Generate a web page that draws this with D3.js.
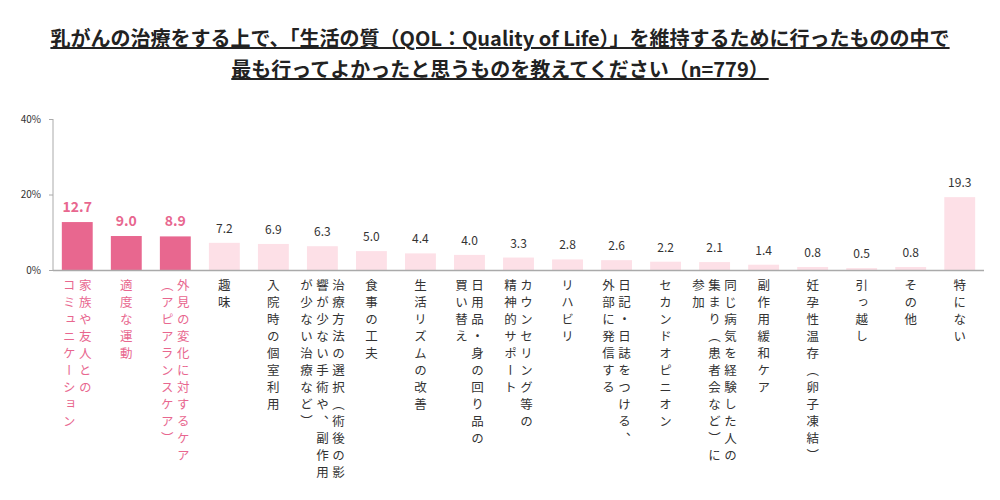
<!DOCTYPE html>
<html>
<head>
<meta charset="utf-8">
<script src="https://cdn.jsdelivr.net/npm/d3@7"></script>
<style>
  body { margin: 0; background: #fff; }
  svg text { font-family: "Noto Sans CJK JP", sans-serif; }
</style>
</head>
<body>
<div id="chart"></div>
<script>
// 項目（\n で縦書きの列を分ける）
const categories = [
    "家族や友人との\nコミュニケーション",
    "適度な運動",
    "外見の変化に対するケア\n（アピアランスケア）",
    "趣味",
    "入院時の個室利用",
    "治療方法の選択（術後の影\n響が少ない手術や、副作用\nが少ない治療など）",
    "食事の工夫",
    "生活リズムの改善",
    "日用品・身の回り品の\n買い替え",
    "カウンセリング等の\n精神的サポート",
    "リハビリ",
    "日記・日誌をつける、\n外部に発信する",
    "セカンドオピニオン",
    "同じ病気を経験した人の\n集まり（患者会など）に\n参加",
    "副作用緩和ケア",
    "妊孕性温存（卵子凍結）",
    "引っ越し",
    "その他",
    "特にない"
];
const values = [12.7, 9.0, 8.9, 7.2, 6.9, 6.3, 5.0, 4.4, 4.0, 3.3, 2.8, 2.6, 2.2, 2.1, 1.4, 0.8, 0.5, 0.8, 19.3];
const highlighted = [true, true, true, false, false, false, false, false, false, false, false, false, false, false, false, false, false, false, false];
const yTicks = [0, 20, 40];
const titleLines = [
    "乳がんの治療をする上で、「生活の質（QOL：Quality of Life）」を維持するために行ったものの中で",
    "最も行ってよかったと思うものを教えてください（n=779）"
];

const width = 1000;
const height = 500;
const pink = "#e8678f";
const lightPink = "#fde0e7";
const textDark = "#333";

const svg = d3.select("#chart").append("svg")
    .attr("width", width)
    .attr("height", height);

// タイトル
svg.selectAll(".title")
    .data(titleLines)
    .enter()
    .append("text")
    .attr("class", "title")
    .attr("x", 500)
    .attr("y", (d, i) => 46 + i * 31)
    .attr("text-anchor", "middle")
    .attr("font-size", "20px")
    .attr("font-weight", "bold")
    .attr("fill", "#222")
    .attr("text-decoration", "underline")
    .text(d => d);

const x = d3.scaleBand()
    .domain(d3.range(categories.length))
    .range([53, 984])
    .paddingInner(0.37)
    .paddingOuter(0.18);

const y = d3.scaleLinear()
    .domain([0, 40])
    .range([270, 119]);

// y軸
const yAxis = svg.append("g")
    .attr("transform", "translate(53,0)")
    .call(d3.axisLeft(y).tickValues(yTicks).tickSize(4).tickFormat(d => d + "%"));
yAxis.select(".domain").attr("stroke", "#aaa").attr("d", `M0,${y(40)}V${y(0)}`);
yAxis.selectAll(".tick line").attr("stroke", "#aaa");
yAxis.selectAll(".tick text")
    .attr("x", -12)
    .attr("font-size", "10px")
    .attr("font-family", "Verdana, 'DejaVu Sans', sans-serif")
    .attr("fill", textDark);

// 棒
svg.selectAll(".bar")
    .data(values)
    .enter()
    .append("rect")
    .attr("class", "bar")
    .attr("x", (d, i) => x(i))
    .attr("y", d => y(d))
    .attr("width", x.bandwidth())
    .attr("height", d => y(0) - y(d))
    .attr("fill", (d, i) => highlighted[i] ? pink : lightPink);

// x軸の線
svg.append("line")
    .attr("x1", 53)
    .attr("x2", 984)
    .attr("y1", y(0) + 0.5)
    .attr("y2", y(0) + 0.5)
    .attr("stroke", "#aaa")
    .attr("stroke-width", 1.5);

// 数値ラベル
svg.selectAll(".value")
    .data(values)
    .enter()
    .append("text")
    .attr("class", "value")
    .attr("x", (d, i) => x(i) + x.bandwidth() / 2)
    .attr("y", d => y(d) - 10)
    .attr("text-anchor", "middle")
    .attr("font-size", (d, i) => highlighted[i] ? "14px" : "12px")
    .attr("font-weight", (d, i) => highlighted[i] ? "bold" : "normal")
    .attr("font-family", (d, i) => highlighted[i] ? "'Noto Sans', sans-serif" : "Verdana, 'DejaVu Sans', sans-serif")
    .attr("fill", (d, i) => highlighted[i] ? pink : textDark)
    .text(d => d.toFixed(1));

// 縦書きの項目ラベル（列は右から左へ）
const colGap = 16;
categories.forEach((label, i) => {
    const cols = label.split("\n");
    const cx = x(i) + x.bandwidth() / 2;
    cols.forEach((col, j) => {
        const colX = cx + ((cols.length - 1) / 2 - j) * colGap;
        svg.append("text")
            .attr("x", colX)
            .attr("y", 279)
            .style("writing-mode", "vertical-rl")
            .style("text-orientation", "mixed")
            .attr("font-size", "12.5px")
            .attr("letter-spacing", "4.5px")
            .attr("fill", highlighted[i] ? pink : textDark)
            .text(col);
    });
});
</script>
</body>
</html>
